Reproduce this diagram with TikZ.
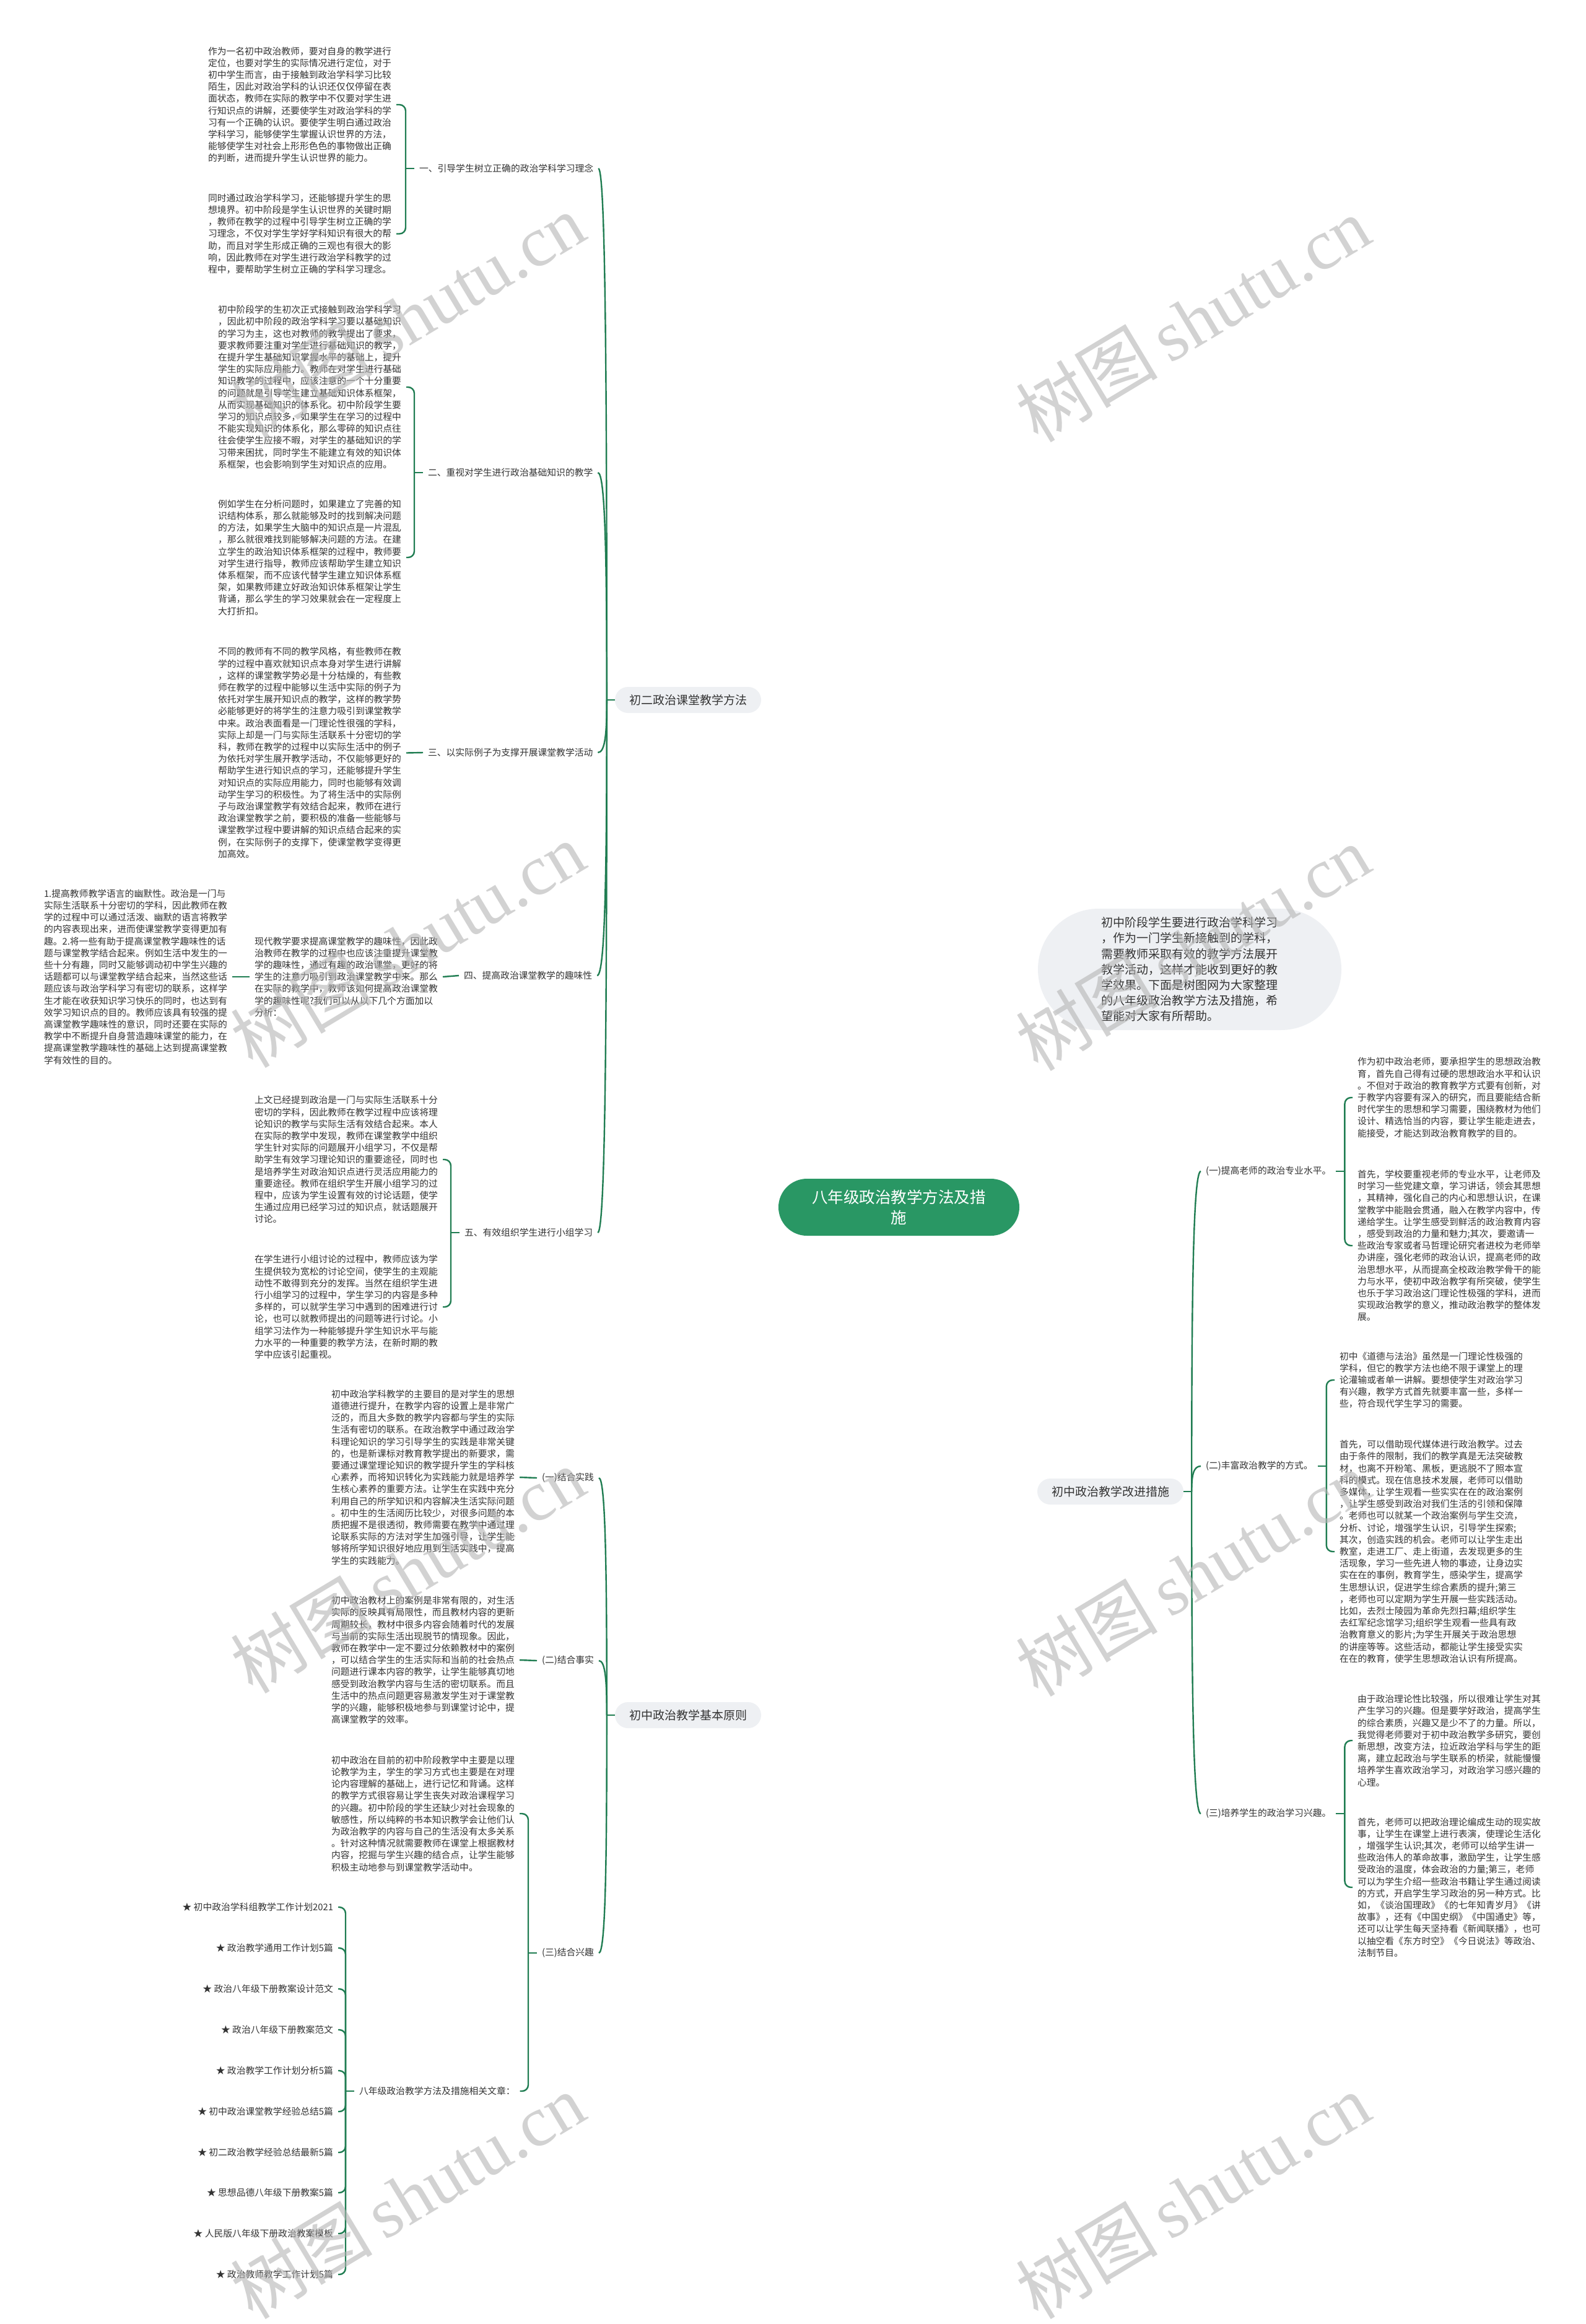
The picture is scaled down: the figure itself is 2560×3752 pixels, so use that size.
\documentclass[tikz,border=0pt]{standalone}
\usepackage{fontspec}
\setmainfont{Noto Sans CJK SC}
\newfontfamily\wmlat{Liberation Serif}
\usetikzlibrary{calc}
\pgfdeclarelayer{bg}
\pgfdeclarelayer{fg}
\pgfsetlayers{bg,main,fg}
\definecolor{lnc}{HTML}{207D52}
\definecolor{txc}{HTML}{333333}
\definecolor{rootc}{HTML}{299764}
\definecolor{pillc}{HTML}{EEF0F3}
\definecolor{wmc}{HTML}{B4B4B4}
\tikzset{
  blk/.style={font=\fontsize{14.8pt}{19.2pt}\selectfont, text=txc, align=left, inner sep=0pt, outer xsep=8pt},
  lbl/.style={font=\fontsize{14.8pt}{18pt}\selectfont, text=txc, inner sep=0pt, outer xsep=8pt},
  brn/.style={font=\fontsize{19pt}{24pt}\selectfont, text=txc, fill=pillc, rounded corners=21pt,
              inner xsep=23pt, inner ysep=0pt, minimum height=42pt},
  conn/.style={draw=lnc, line width=2.4pt},
  elbow/.style={conn, rounded corners=10pt},
  lcurve/.style={to path={let \p1=(\tikztostart),\p2=(\tikztotarget) in
     .. controls ({\x2-0.15*(\x2-\x1)},\y1) and (\x2,{\y1+0.4*(\y2-\y1)}) .. (\tikztotarget)}},
  rcurve/.style={to path={let \p1=(\tikztostart),\p2=(\tikztotarget) in
     .. controls (\x1,{\y1+0.65*(\y2-\y1)}) and ({\x1+0.5*(\x2-\x1)},\y2) .. (\tikztotarget)}},
  wm/.style={text=wmc, text opacity=0.6, rotate=31, inner sep=0pt},
}
\newcommand{\wmtext}{{\fontsize{115pt}{115pt}\selectfont 树图\,{\wmlat shutu.cn}}}
\begin{document}
\begin{tikzpicture}[x=1pt,y=-1pt]
\useasboundingbox (0,0) rectangle (2560,3752);
\fill[white] (0,0) rectangle (2560,3752);

% ---------- root and first level ----------
\node[fill=rootc, text=white, rounded corners=46pt, minimum width=389pt, minimum height=92pt,
      align=center, font=\fontsize{25.5pt}{33pt}\selectfont, inner sep=0pt] (root) at (1451.5,1949)
      {八年级政治教学方法及措\\施};
\node[fill=pillc, rounded corners=98pt, minimum width=490pt, minimum height=196pt, inner xsep=99pt,
      align=left, text=txc, font=\fontsize{19pt}{25.2pt}\selectfont] (pill) at (1921,1565)
      {初中阶段学生要进行政治学科学习\\，作为一门学生新接触到的学科，\\需要教师采取有效的教学方法展开\\教学活动，这样才能收到更好的教\\学效果。下面是树图网为大家整理\\的八年级政治教学方法及措施，希\\望能对大家有所帮助。};
\node[brn] (b1) at (1111,1130) {初二政治课堂教学方法};
\node[brn] (b2) at (1793,2408) {初中政治教学改进措施};
\node[brn] (b3) at (1111,2769) {初中政治教学基本原则};

% ---------- branch 1: 初二政治课堂教学方法 ----------
\node[lbl, anchor=west] (l1) at (669,272) {一、引导学生树立正确的政治学科学习理念};
\node[lbl, anchor=west] (l2) at (683,763) {二、重视对学生进行政治基础知识的教学};
\node[lbl, anchor=west] (l3) at (683,1215) {三、以实际例子为支撑开展课堂教学活动};
\node[lbl, anchor=west] (l4) at (741,1575) {四、提高政治课堂教学的趣味性};
\node[lbl, anchor=west] (l5) at (742,1990) {五、有效组织学生进行小组学习};

\node[blk, anchor=west] (t1) at (328,169) {作为一名初中政治教师，要对自身的教学进行\\定位，也要对学生的实际情况进行定位，对于\\初中学生而言，由于接触到政治学科学习比较\\陌生，因此对政治学科的认识还仅仅停留在表\\面状态，教师在实际的教学中不仅要对学生进\\行知识点的讲解，还要使学生对政治学科的学\\习有一个正确的认识。要使学生明白通过政治\\学科学习，能够使学生掌握认识世界的方法，\\能够使学生对社会上形形色色的事物做出正确\\的判断，进而提升学生认识世界的能力。};
\node[blk, anchor=west] (t2) at (328,377.5) {同时通过政治学科学习，还能够提升学生的思\\想境界。初中阶段是学生认识世界的关键时期\\，教师在教学的过程中引导学生树立正确的学\\习理念，不仅对学生学好学科知识有很大的帮\\助，而且对学生形成正确的三观也有很大的影\\响，因此教师在对学生进行政治学科教学的过\\程中，要帮助学生树立正确的学科学习理念。};
\node[blk, anchor=west] (t3) at (344,625) {初中阶段学的生初次正式接触到政治学科学习\\，因此初中阶段的政治学科学习要以基础知识\\的学习为主，这也对教师的教学提出了要求，\\要求教师要注重对学生进行基础知识的教学，\\在提升学生基础知识掌握水平的基础上，提升\\学生的实际应用能力。教师在对学生进行基础\\知识教学的过程中，应该注意的一个十分重要\\的问题就是引导学生建立基础知识体系框架，\\从而实现基础知识的体系化。初中阶段学生要\\学习的知识点较多，如果学生在学习的过程中\\不能实现知识的体系化，那么零碎的知识点往\\往会使学生应接不暇，对学生的基础知识的学\\习带来困扰，同时学生不能建立有效的知识体\\系框架，也会影响到学生对知识点的应用。};
\node[blk, anchor=west] (t4) at (344,900) {例如学生在分析问题时，如果建立了完善的知\\识结构体系，那么就能够及时的找到解决问题\\的方法，如果学生大脑中的知识点是一片混乱\\，那么就很难找到能够解决问题的方法。在建\\立学生的政治知识体系框架的过程中，教师要\\对学生进行指导，教师应该帮助学生建立知识\\体系框架，而不应该代替学生建立知识体系框\\架，如果教师建立好政治知识体系框架让学生\\背诵，那么学生的学习效果就会在一定程度上\\大打折扣。};
\node[blk, anchor=west] (t5) at (344,1215.5) {不同的教师有不同的教学风格，有些教师在教\\学的过程中喜欢就知识点本身对学生进行讲解\\，这样的课堂教学势必是十分枯燥的，有些教\\师在教学的过程中能够以生活中实际的例子为\\依托对学生展开知识点的教学，这样的教学势\\必能够更好的将学生的注意力吸引到课堂教学\\中来。政治表面看是一门理论性很强的学科，\\实际上却是一门与实际生活联系十分密切的学\\科，教师在教学的过程中以实际生活中的例子\\为依托对学生展开教学活动，不仅能够更好的\\帮助学生进行知识点的学习，还能够提升学生\\对知识点的实际应用能力，同时也能够有效调\\动学生学习的积极性。为了将生活中的实际例\\子与政治课堂教学有效结合起来，教师在进行\\政治课堂教学之前，要积极的准备一些能够与\\课堂教学过程中要讲解的知识点结合起来的实\\例，在实际例子的支撑下，使课堂教学变得更\\加高效。};
\node[blk, anchor=west] (t7) at (403,1577) {现代教学要求提高课堂教学的趣味性，因此政\\治教师在教学的过程中也应该注重提升课堂教\\学的趣味性，通过有趣的政治课堂，更好的将\\学生的注意力吸引到政治课堂教学中来。那么\\在实际的教学中，教师该如何提高政治课堂教\\学的趣味性呢?我们可以从以下几个方面加以\\分析：};
\node[blk, anchor=west] (t6) at (63,1577) {1.提高教师教学语言的幽默性。政治是一门与\\实际生活联系十分密切的学科，因此教师在教\\学的过程中可以通过活泼、幽默的语言将教学\\的内容表现出来，进而使课堂教学变得更加有\\趣。2.将一些有助于提高课堂教学趣味性的话\\题与课堂教学结合起来。例如生活中发生的一\\些十分有趣，同时又能够调动初中学生兴趣的\\话题都可以与课堂教学结合起来，当然这些话\\题应该与政治学科学习有密切的联系，这样学\\生才能在收获知识学习快乐的同时，也达到有\\效学习知识点的目的。教师应该具有较强的提\\高课堂教学趣味性的意识，同时还要在实际的\\教学中不断提升自身营造趣味课堂的能力，在\\提高课堂教学趣味性的基础上达到提高课堂教\\学有效性的目的。};
\node[blk, anchor=west] (t8) at (403,1872) {上文已经提到政治是一门与实际生活联系十分\\密切的学科，因此教师在教学过程中应该将理\\论知识的教学与实际生活有效结合起来。本人\\在实际的教学中发现，教师在课堂教学中组织\\学生针对实际的问题展开小组学习，不仅是帮\\助学生有效学习理论知识的重要途径，同时也\\是培养学生对政治知识点进行灵活应用能力的\\重要途径。教师在组织学生开展小组学习的过\\程中，应该为学生设置有效的讨论话题，使学\\生通过应用已经学习过的知识点，就话题展开\\讨论。};
\node[blk, anchor=west] (t9) at (403,2110) {在学生进行小组讨论的过程中，教师应该为学\\生提供较为宽松的讨论空间，使学生的主观能\\动性不敢得到充分的发挥。当然在组织学生进\\行小组学习的过程中，学生学习的内容是多种\\多样的，可以就学生学习中遇到的困难进行讨\\论，也可以就教师提出的问题等进行讨论。小\\组学习法作为一种能够提升学生知识水平与能\\力水平的一种重要的教学方法，在新时期的教\\学中应该引起重视。};

% ---------- branch 3: 初中政治教学基本原则 ----------
\node[lbl, anchor=west] (p1) at (867,2386) {(一)结合实践};
\node[lbl, anchor=west] (p2) at (867,2681) {(二)结合事实};
\node[lbl, anchor=west] (p3) at (867,3153) {(三)结合兴趣};
\node[blk, anchor=west] (t10) at (527,2385) {初中政治学科教学的主要目的是对学生的思想\\道德进行提升，在教学内容的设置上是非常广\\泛的，而且大多数的教学内容都与学生的实际\\生活有密切的联系。在政治教学中通过政治学\\科理论知识的学习引导学生的实践是非常关键\\的，也是新课标对教育教学提出的新要求，需\\要通过课堂理论知识的教学提升学生的学科核\\心素养，而将知识转化为实践能力就是培养学\\生核心素养的重要方法。让学生在实践中充分\\利用自己的所学知识和内容解决生活实际问题\\。初中生的生活阅历比较少，对很多问题的本\\质把握不是很透彻，教师需要在教学中通过理\\论联系实际的方法对学生加强引导，让学生能\\够将所学知识很好地应用到生活实践中，提高\\学生的实践能力。};
\node[blk, anchor=west] (t11) at (527,2680) {初中政治教材上的案例是非常有限的，对生活\\实际的反映具有局限性，而且教材内容的更新\\周期较长，教材中很多内容会随着时代的发展\\与当前的实际生活出现脱节的情现象。因此，\\教师在教学中一定不要过分依赖教材中的案例\\，可以结合学生的生活实际和当前的社会热点\\问题进行课本内容的教学，让学生能够真切地\\感受到政治教学内容与生活的密切联系。而且\\生活中的热点问题更容易激发学生对于课堂教\\学的兴趣，能够积极地参与到课堂讨论中，提\\高课堂教学的效率。};
\node[blk, anchor=west] (t12) at (527,2928) {初中政治在目前的初中阶段教学中主要是以理\\论教学为主，学生的学习方式也主要是在对理\\论内容理解的基础上，进行记忆和背诵。这样\\的教学方式很容易让学生丧失对政治课程学习\\的兴趣。初中阶段的学生还缺少对社会现象的\\敏感性，所以纯粹的书本知识教学会让他们认\\为政治教学的内容与自己的生活没有太多关系\\。针对这种情况就需要教师在课堂上根据教材\\内容，挖掘与学生兴趣的结合点，让学生能够\\积极主动地参与到课堂教学活动中。};
\node[lbl, anchor=west] (rel) at (572,3376) {八年级政治教学方法及措施相关文章：};
\node[lbl, anchor=east] (k1) at (546,3079) {★ 初中政治学科组教学工作计划2021};
\node[lbl, anchor=east] (k2) at (546,3145) {★ 政治教学通用工作计划5篇};
\node[lbl, anchor=east] (k3) at (546,3211) {★ 政治八年级下册教案设计范文};
\node[lbl, anchor=east] (k4) at (546,3277) {★ 政治八年级下册教案范文};
\node[lbl, anchor=east] (k5) at (546,3343) {★ 政治教学工作计划分析5篇};
\node[lbl, anchor=east] (k6) at (546,3409) {★ 初中政治课堂教学经验总结5篇};
\node[lbl, anchor=east] (k7) at (546,3475) {★ 初二政治教学经验总结最新5篇};
\node[lbl, anchor=east] (k8) at (546,3540) {★ 思想品德八年级下册教案5篇};
\node[lbl, anchor=east] (k9) at (546,3606) {★ 人民版八年级下册政治教案模板};
\node[lbl, anchor=east] (k10) at (546,3672) {★ 政治教师教学工作计划5篇};

% ---------- branch 2: 初中政治教学改进措施 ----------
\node[lbl, anchor=west] (q1) at (1939,1891) {(一)提高老师的政治专业水平。};
\node[lbl, anchor=west] (q2) at (1939,2367) {(二)丰富政治教学的方式。};
\node[lbl, anchor=west] (q3) at (1939,2928) {(三)培养学生的政治学习兴趣。};
\node[blk, anchor=west] (r1) at (2184,1772) {作为初中政治老师，要承担学生的思想政治教\\育，首先自己得有过硬的思想政治水平和认识\\。不但对于政治的教育教学方式要有创新，对\\于教学内容要有深入的研究，而且要能结合新\\时代学生的思想和学习需要，围绕教材为他们\\设计、精选恰当的内容，要让学生能走进去，\\能接受，才能达到政治教育教学的目的。};
\node[blk, anchor=west] (r2) at (2184,2011) {首先，学校要重视老师的专业水平，让老师及\\时学习一些党建文章，学习讲话，领会其思想\\，其精神，强化自己的内心和思想认识，在课\\堂教学中能融会贯通，融入在教学内容中，传\\递给学生。让学生感受到鲜活的政治教育内容\\，感受到政治的力量和魅力;其次，要邀请一\\些政治专家或者马哲理论研究者进校为老师举\\办讲座，强化老师的政治认识，提高老师的政\\治思想水平，从而提高全校政治教学骨干的能\\力与水平，使初中政治教学有所突破，使学生\\也乐于学习政治这门理论性极强的学科，进而\\实现政治教学的意义，推动政治教学的整体发\\展。};
\node[blk, anchor=west] (r3) at (2155,2228) {初中《道德与法治》虽然是一门理论性极强的\\学科，但它的教学方法也绝不限于课堂上的理\\论灌输或者单一讲解。要想使学生对政治学习\\有兴趣，教学方式首先就要丰富一些，多样一\\些，符合现代学生学习的需要。};
\node[blk, anchor=west] (r4) at (2155,2505) {首先，可以借助现代媒体进行政治教学。过去\\由于条件的限制，我们的教学真是无法突破教\\材，也离不开粉笔、黑板，更逃脱不了照本宣\\科的模式。现在信息技术发展，老师可以借助\\多媒体，让学生观看一些实实在在的政治案例\\，让学生感受到政治对我们生活的引领和保障\\。老师也可以就某一个政治案例与学生交流，\\分析、讨论，增强学生认识，引导学生探索;\\其次，创造实践的机会。老师可以让学生走出\\教室，走进工厂、走上街道，去发现更多的生\\活现象，学习一些先进人物的事迹，让身边实\\实在在的事例，教育学生，感染学生，提高学\\生思想认识，促进学生综合素质的提升;第三\\，老师也可以定期为学生开展一些实践活动。\\比如，去烈士陵园为革命先烈扫幕;组织学生\\去红军纪念馆学习;组织学生观看一些具有政\\治教育意义的影片;为学生开展关于政治思想\\的讲座等等。这些活动，都能让学生接受实实\\在在的教育，使学生思想政治认识有所提高。};
\node[blk, anchor=west] (r5) at (2184,2810) {由于政治理论性比较强，所以很难让学生对其\\产生学习的兴趣。但是要学好政治，提高学生\\的综合素质，兴趣又是少不了的力量。所以，\\我觉得老师要对于初中政治教学多研究，要创\\新思想，改变方法，拉近政治学科与学生的距\\离，建立起政治与学生联系的桥梁，就能慢慢\\培养学生喜欢政治学习，对政治学习感兴趣的\\心理。};
\node[blk, anchor=west] (r6) at (2184,3047) {首先，老师可以把政治理论编成生动的现实故\\事，让学生在课堂上进行表演，使理论生活化\\，增强学生认识;其次，老师可以给学生讲一\\些政治伟人的革命故事，激励学生，让学生感\\受政治的温度，体会政治的力量;第三，老师\\可以为学生介绍一些政治书籍让学生通过阅读\\的方式，开启学生学习政治的另一种方式。比\\如，《谈治国理政》《的七年知青岁月》《讲\\故事》，还有《中国史纲》《中国通史》等，\\还可以让学生每天坚持看《新闻联播》，也可\\以抽空看《东方时空》《今日说法》等政治、\\法制节目。};

% ---------- connectors ----------
\begin{pgfonlayer}{bg}
  \draw[conn] (root.center) to[rcurve] (b1.east);
  \draw[conn] (root.center) to[rcurve] (b3.east);
  \draw[conn] (root.center) to[rcurve] (b2.west);
  \draw[conn] (root.center) to[rcurve] (pill.west);
\end{pgfonlayer}
\draw[conn] (b1.west) -- ++(-13,0) coordinate (s1);
\draw[conn] (b3.west) -- ++(-13,0) coordinate (s3);
\draw[conn] (b2.east) -- ++(13,0) coordinate (s2);

\foreach \n in {l1,l2,l3,l4,l5}{\draw[conn] (\n.east) to[lcurve] (s1);}
\foreach \n in {p1,p2,p3}{\draw[conn] (\n.east) to[lcurve] (s3);}
\foreach \n in {q1,q2,q3}{\draw[conn] (\n.west) to[lcurve] (s2);}

\draw[conn] (l1.west) -- ++(-14,0) coordinate (j1);
\draw[elbow] (j1) |- (t1.east);
\draw[elbow] (j1) |- (t2.east);
\draw[conn] (l2.west) -- ++(-14,0) coordinate (j2);
\draw[elbow] (j2) |- (t3.east);
\draw[elbow] (j2) |- (t4.east);
\draw[conn] (l3.west) -- (t5.east);
\draw[conn] (l4.west) -- (t7.east);
\draw[conn] (t7.west) -- (t6.east);
\draw[conn] (l5.west) -- ++(-14,0) coordinate (j5);
\draw[elbow] (j5) |- (t8.east);
\draw[elbow] (j5) |- (t9.east);

\draw[conn] (p1.west) -- (t10.east);
\draw[conn] (p2.west) -- (t11.east);
\draw[conn] (p3.west) -- ++(-14,0) coordinate (j6);
\draw[elbow] (j6) |- (t12.east);
\draw[elbow] (j6) |- (rel.east);
\draw[conn] (rel.west) -- ++(-14,0) coordinate (j7);
\foreach \n in {k1,k2,k3,k4,k5,k6,k7,k8,k9,k10}{\draw[elbow] (j7) |- (\n.east);}

\draw[conn] (q1.east) -- ++(14,0) coordinate (m1);
\draw[elbow] (m1) |- (r1.west);
\draw[elbow] (m1) |- (r2.west);
\draw[conn] (q2.east) -- ++(14,0) coordinate (m2);
\draw[elbow] (m2) |- (r3.west);
\draw[elbow] (m2) |- (r4.west);
\draw[conn] (q3.east) -- ++(14,0) coordinate (m3);
\draw[elbow] (m3) |- (r5.west);
\draw[elbow] (m3) |- (r6.west);

% ---------- watermarks ----------
\begin{pgfonlayer}{fg}
  \foreach \i/\wx/\wy in {1/658/510, 2/1926/515, 3/658/1525, 4/1926/1530, 5/658/2535, 6/1926/2540, 7/658/3545, 8/1926/3545}
    {\node[wm] (wm\i) at (\wx,\wy) {\wmtext};}
\end{pgfonlayer}
\end{tikzpicture}
\end{document}
